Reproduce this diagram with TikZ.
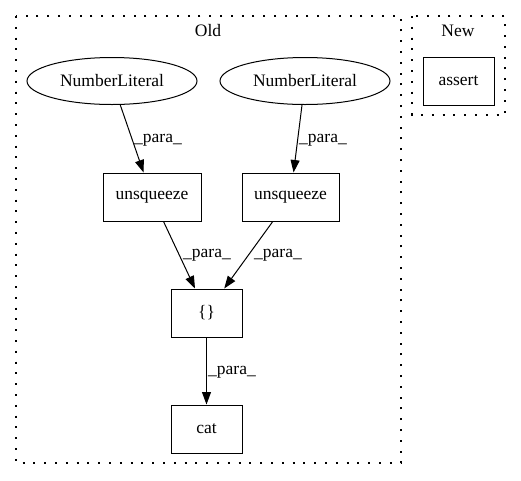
\documentclass[tikz,border=0pt]{standalone}
\usepackage{fontspec}
\setmainfont{Liberation Serif}
\usetikzlibrary{arrows.meta,shapes.geometric}
\begin{document}
\begin{tikzpicture}[x=1pt,y=-1pt,
  every node/.style={font=\fontsize{17.5}{20}\selectfont},
  box/.style={draw,line width=1pt,rectangle,inner sep=0pt},
  ell/.style={draw,line width=1pt,ellipse,inner sep=0pt,minimum width=170pt,minimum height=47pt},
  clus/.style={line width=1.25pt,dash pattern=on 2pt off 8.8pt},
  edge/.style={line width=1pt,-{Triangle[length=12.5pt,width=9pt]}},
  lbl/.style={inner sep=0pt}]
\useasboundingbox (0,0) rectangle (521,480);
\draw[clus] (16,16) rectangle (401,463);
\draw[clus] (412,16) rectangle (505,115);
\node (told) at (208,31) {Old};
\node (tnew) at (458,31) {New};
\node[box,minimum width=71pt,minimum height=48pt] (assert) at (458.5,81) {assert};
\node[ell] (nl1) at (112,81) {NumberLiteral};
\node[ell] (nl2) at (305,81) {NumberLiteral};
\node[box,minimum width=98pt,minimum height=48pt] (u1) at (152,197) {unsqueeze};
\node[box,minimum width=97pt,minimum height=48pt] (u2) at (290.5,197) {unsqueeze};
\node[box,minimum width=71pt,minimum height=48pt] (br) at (206.5,313) {\{\}};
\node[box,minimum width=71pt,minimum height=48pt] (cat) at (206.5,429) {cat};
\draw[edge] (nl1) -- (u1);
\draw[edge] (nl2) -- (u2);
\draw[edge] (u1) -- (br);
\draw[edge] (u2) -- (br);
\draw[edge] (br) -- (cat);
\node[lbl] (l1) at (158,140) {\_para\_};
\node[lbl] (l2) at (323,140) {\_para\_};
\node[lbl] (l3) at (207,255) {\_para\_};
\node[lbl] (l4) at (278,255) {\_para\_};
\node[lbl] (l5) at (232,372) {\_para\_};
\end{tikzpicture}
\end{document}
